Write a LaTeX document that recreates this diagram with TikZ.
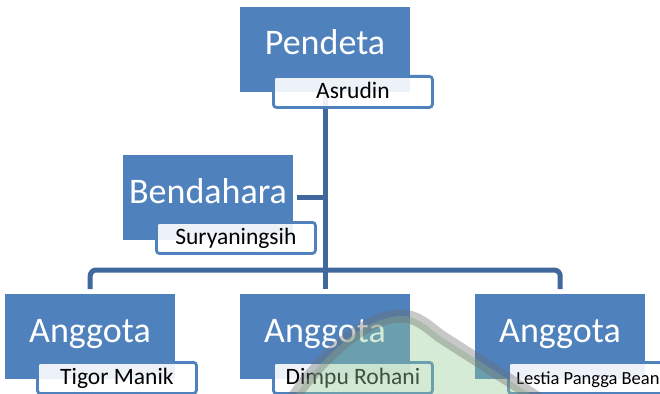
\documentclass[tikz,border=0pt]{standalone}
\usepackage{fontspec}
\setmainfont{Carlito}
\definecolor{boxblue}{RGB}{79,129,189}
\definecolor{linkblue}{RGB}{64,104,156}
\definecolor{wmgreen}{RGB}{150,205,150}
\definecolor{wmgray}{RGB}{110,110,110}
\tikzset{
  rolebox/.style={fill=boxblue, draw=none, minimum width=170pt, minimum height=85pt, anchor=north west, inner sep=0pt},
  namebox/.style={fill=white, fill opacity=0.9, text opacity=1, draw=boxblue, draw opacity=1, line width=2.8pt, rounded corners=3pt,
    minimum width=159pt, minimum height=31pt, anchor=north west, inner sep=0pt, text height=17pt, text depth=4pt,
    font=\fontsize{23.5}{26}\selectfont},
  roletext/.style={text=white, font=\fontsize{36}{40}\selectfont, anchor=base, inner sep=0pt},
  link/.style={draw=linkblue, line width=5pt},
}
\begin{document}
\begin{tikzpicture}[x=1pt,y=-1pt]
\useasboundingbox (0,0) rectangle (660,393);
% boxes
\node[rolebox] (p) at (240,7) {};
\node[rolebox] (b) at (123,155) {};
\node[rolebox] (al) at (5,294) {};
\node[rolebox] (am) at (240,294) {};
\node[rolebox] (ar) at (475,294) {};
% connectors
\coordinate (bar) at (0,270);
\draw[link] (p.south) -- ([yshift=5pt]am.north);
\draw[link] ([xshift=4pt]b.east) -- (b.east -| p.south);
\draw[link, rounded corners=6pt] ([yshift=5pt]al.north) |- (bar -| ar.north) -- ([yshift=5pt]ar.north);
% role texts
\node[roletext] (pt) at (325,55) {Pendeta};
\node[roletext] (bt) at (208,203) {Bendahara};
\node[roletext] (alt) at (90,342) {Anggota};
\node[roletext] (amt) at (325,342) {Anggota};
\node[roletext] (art) at (560,342) {Anggota};
% name labels
\node[namebox] (pl) at (272,75) {Asrudin};
\node[namebox] (bl) at (155,221) {Suryaningsih};
\node[namebox] (all) at (36,361) {Tigor Manik};
\node[namebox] (aml) at (272,361) {Dimpu Rohani};
\node[namebox, font=\fontsize{18.5}{22}\selectfont] (arl) at (507,361) {Lestia Pangga Bean};
% watermark
\fill[wmgreen, opacity=0.4] (292,400) .. controls (330,345) and (372,316) .. (401,316)
  .. controls (416,316) and (426,325) .. (440,336) -- (540,400) -- cycle;
\draw[wmgray, opacity=0.38, line width=13pt] (292,400) .. controls (330,345) and (372,316) .. (401,316)
  .. controls (416,316) and (426,325) .. (440,336) -- (540,400);
\end{tikzpicture}
\end{document}
